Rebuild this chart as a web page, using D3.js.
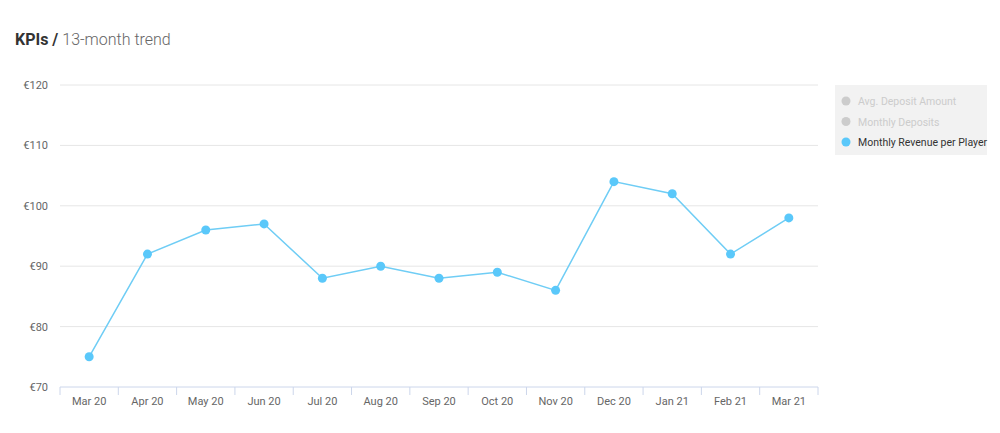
<!DOCTYPE html><html><head><meta charset="utf-8"><script src="https://cdn.jsdelivr.net/npm/d3@7"></script>
<style>body{margin:0;background:#fff;font-family:Roboto,sans-serif}</style></head><body><svg id="c" width="1000" height="433"></svg>
<script>
const months=["Mar 20","Apr 20","May 20","Jun 20","Jul 20","Aug 20","Sep 20","Oct 20","Nov 20","Dec 20","Jan 21","Feb 21","Mar 21"];
const revenue=[75,92,96,97,88,90,88,89,86,104,102,92,98];
const yTicks=[70,80,90,100,110,120];
const legendItems=["Avg. Deposit Amount","Monthly Deposits","Monthly Revenue per Player"];
const legendActive=[false,false,true];
const svg=d3.select("#c");
const L=60,R=818,T=85,B=387;
const x=d3.scaleBand().domain(months).range([L,R]);
const y=d3.scaleLinear().domain([70,120]).range([B,T]);
const t=svg.append("text").attr("x",15).attr("y",45).attr("font-size",16);
t.append("tspan").attr("font-weight","bold").attr("fill","#333").text("KPIs / ");
t.append("tspan").attr("fill","#666").attr("font-weight",300).text("13-month trend");
svg.append("g").selectAll("line").data(yTicks).join("line").attr("x1",L).attr("x2",R)
 .attr("y1",d=>y(d)).attr("y2",d=>y(d)).attr("stroke",d=>d===70?"#ccd6eb":"#e6e6e6");
svg.append("g").selectAll("text").data(yTicks).join("text").attr("x",48).attr("y",d=>y(d)+4)
 .attr("text-anchor","end").attr("font-size",11).attr("fill","#666").text(d=>"€"+d);
svg.append("g").selectAll("line").data(months).join("line").attr("x1",d=>x(d)+x.bandwidth()).attr("x2",d=>x(d)+x.bandwidth())
 .attr("y1",B).attr("y2",B+8).attr("stroke","#ccd6eb");
svg.append("line").attr("x1",L).attr("x2",L).attr("y1",B).attr("y2",B+8).attr("stroke","#ccd6eb");
svg.append("g").selectAll("text").data(months).join("text").attr("x",d=>x(d)+x.bandwidth()/2).attr("y",B+18)
 .attr("text-anchor","middle").attr("font-size",11).attr("fill","#666").text(d=>d);
const cx=(d,i)=>x(months[i])+x.bandwidth()/2;
svg.append("path").datum(revenue).attr("fill","none").attr("stroke","#6fcdf5").attr("stroke-width",1.5)
 .attr("d",d3.line().x(cx).y(d=>y(d)));
svg.append("g").selectAll("circle").data(revenue).join("circle").attr("cx",cx).attr("cy",d=>y(d)).attr("r",4.5).attr("fill","#5ac8fa");
svg.append("rect").attr("x",835).attr("y",85).attr("width",152).attr("height",70).attr("fill","#f2f2f2");
const lg=svg.append("g").selectAll("g").data(legendItems).join("g").attr("transform",(d,i)=>`translate(846,${101+i*20.5})`);
lg.append("circle").attr("r",4.5).attr("fill",(d,i)=>legendActive[i]?"#5ac8fa":"#cccccc");
lg.append("text").attr("x",12).attr("y",4).attr("font-size",10.5).attr("fill",(d,i)=>legendActive[i]?"#333":"#ccc").text(d=>d);
</script></body></html>
